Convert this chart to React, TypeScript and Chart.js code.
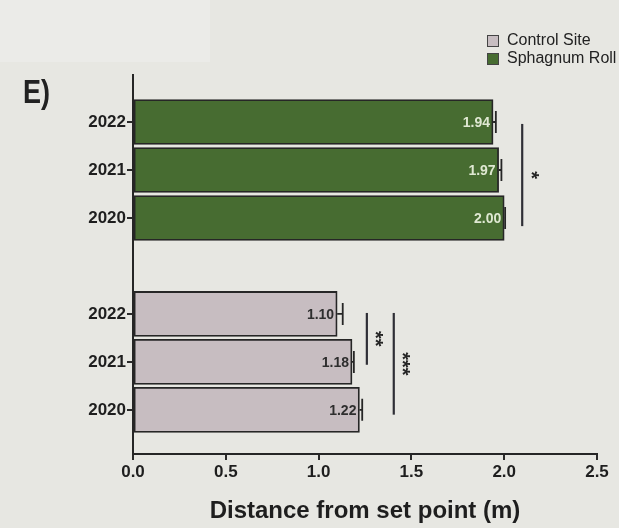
import React, { useEffect, useRef } from "react";
import { Chart, registerables } from "chart.js";

Chart.register(...registerables);

// ---- data ----
const yearLabels = ["2022", "2021", "2020"];
const controlValues = [1.1, 1.18, 1.22];
const controlErrors = [0.03, 0.01, 0.015];
const sphagnumValues = [1.94, 1.97, 2.0];
const sphagnumErrors = [0.015, 0.015, 0.005];
// slot positions on the (reversed) vertical value scale
const sphagnumSlots = [0, 1, 2];
const controlSlots = [4, 5, 6];
const xTicks = [0, 0.5, 1.0, 1.5, 2.0, 2.5];
const seriesNames = ["Control Site", "Sphagnum Roll"];
// significance brackets: x position (m), slot range, label
const sigX = [2.097, 1.26, 1.405];
const sigFrom = [0.04, 3.98, 3.98];
const sigTo = [2.17, 5.06, 6.1];
const sigLabels = ["*", "**", "***"];

const GREEN = "#476c31";
const GRAY = "#c7bdc1";
const DARK = "#262626";
const FONT = "'Liberation Sans', Arial, Helvetica, sans-serif";

const tickLabelBySlot: Record<number, string> = {};
sphagnumSlots.forEach((s, i) => (tickLabelBySlot[s] = yearLabels[i]));
controlSlots.forEach((s, i) => (tickLabelBySlot[s] = yearLabels[i]));

const decorPlugin = {
  id: "decor",
  beforeDraw(chart: any) {
    const { ctx, width, height } = chart;
    ctx.save();
    ctx.fillStyle = "#e7e7e2";
    ctx.fillRect(0, 0, width, height);
    ctx.fillStyle = "#ebebe8";
    ctx.fillRect(0, 0, 210, 62);
    ctx.restore();
  },
  afterDatasetsDraw(chart: any) {
    const { ctx } = chart;
    const xs = chart.scales.x;
    const ys = chart.scales.y;
    ctx.save();

    // error bars
    const drawErr = (vals: number[], errs: number[], slots: number[]) => {
      vals.forEach((v, i) => {
        const y = ys.getPixelForValue(slots[i]);
        const x0 = xs.getPixelForValue(v);
        const x1 = xs.getPixelForValue(v + errs[i]);
        ctx.strokeStyle = DARK;
        ctx.lineWidth = 1.8;
        ctx.beginPath();
        ctx.moveTo(x0, y);
        ctx.lineTo(x1, y);
        ctx.moveTo(x1, y - 11);
        ctx.lineTo(x1, y + 11);
        ctx.stroke();
      });
    };
    drawErr(controlValues, controlErrors, controlSlots);
    drawErr(sphagnumValues, sphagnumErrors, sphagnumSlots);

    // value labels
    ctx.font = `bold 14px ${FONT}`;
    ctx.textAlign = "right";
    ctx.textBaseline = "middle";
    sphagnumValues.forEach((v, i) => {
      ctx.fillStyle = "#dfe8d2";
      ctx.fillText(v.toFixed(2), xs.getPixelForValue(v) - 3, ys.getPixelForValue(sphagnumSlots[i]) + 1);
    });
    controlValues.forEach((v, i) => {
      ctx.fillStyle = "#2e2e2e";
      ctx.fillText(v.toFixed(2), xs.getPixelForValue(v) - 3, ys.getPixelForValue(controlSlots[i]) + 1);
    });

    // significance brackets
    sigX.forEach((sx, i) => {
      const x = xs.getPixelForValue(sx);
      const y0 = ys.getPixelForValue(sigFrom[i]);
      const y1 = ys.getPixelForValue(sigTo[i]);
      ctx.strokeStyle = "#2f2f36";
      ctx.lineWidth = 2.2;
      ctx.beginPath();
      ctx.moveTo(x, y0);
      ctx.lineTo(x, y1);
      ctx.stroke();
      ctx.save();
      ctx.translate(x + 11, (y0 + y1) / 2);
      ctx.rotate(Math.PI / 2);
      ctx.font = `bold 20px ${FONT}`;
      ctx.textAlign = "center";
      ctx.textBaseline = "middle";
      ctx.fillStyle = "#262626";
      ctx.fillText(sigLabels[i], 0, 3);
      ctx.restore();
    });

    // panel label
    ctx.save();
    ctx.translate(23, 103);
    ctx.scale(1, 1.25);
    ctx.font = `bold 27px ${FONT}`;
    ctx.textAlign = "left";
    ctx.textBaseline = "alphabetic";
    ctx.fillStyle = "#222";
    ctx.fillText("E)", 0, 0);
    ctx.restore();

    // legend
    const colors = [GRAY, GREEN];
    seriesNames.forEach((name, i) => {
      const by = 35 + i * 18;
      ctx.fillStyle = colors[i];
      ctx.fillRect(487, by, 12, 12);
      ctx.strokeStyle = "#444";
      ctx.lineWidth = 1;
      ctx.strokeRect(487.5, by + 0.5, 11, 11);
      ctx.fillStyle = "#222";
      ctx.font = `16px ${FONT}`;
      ctx.textAlign = "left";
      ctx.textBaseline = "middle";
      ctx.fillText(name, 507, by + 6);
    });
    ctx.restore();
  },
};

export default function App() {
  const ref = useRef<HTMLCanvasElement>(null);
  useEffect(() => {
    document.body.style.margin = "0";
    const canvas = ref.current!;
    const chart = new Chart(canvas, {
      type: "bar",
      data: {
        datasets: [
          {
            label: seriesNames[0],
            data: controlValues.map((v, i) => ({ x: v, y: controlSlots[i] })),
            backgroundColor: GRAY,
            borderColor: DARK,
            borderWidth: 1.8,
            borderSkipped: false,
            barThickness: 45,
            grouped: false,
          },
          {
            label: seriesNames[1],
            data: sphagnumValues.map((v, i) => ({ x: v, y: sphagnumSlots[i] })),
            backgroundColor: GREEN,
            borderColor: DARK,
            borderWidth: 1.8,
            borderSkipped: false,
            barThickness: 45,
            grouped: false,
          },
        ] as any,
      },
      options: {
        indexAxis: "y",
        animation: false,
        responsive: false,
        layout: { padding: { top: 75, right: 22, bottom: 0, left: 0 } },
        plugins: { legend: { display: false }, tooltip: { enabled: false } },
        scales: {
          y: {
            type: "linear",
            reverse: true,
            offset: false,
            min: -0.98,
            max: 6.92,
            afterBuildTicks: (scale: any) => {
              scale.ticks = [...sphagnumSlots, ...controlSlots].map((v) => ({ value: v }));
            },
            afterFit: (scale: any) => {
              scale.width = 133;
            },
            ticks: {
              autoSkip: false,
              padding: 1,
              color: "#1e1e1e",
              font: { family: FONT, size: 17, weight: "bold" },
              callback: (v: any) => tickLabelBySlot[v as number] ?? "",
            },
            grid: { offset: false, drawOnChartArea: false, drawTicks: true, tickLength: 6, color: "#2a2a2a", lineWidth: 2 },
            border: { display: true, color: "#262626", width: 2 },
          },
          x: {
            type: "linear",
            min: 0,
            max: 2.5,
            afterBuildTicks: (scale: any) => {
              scale.ticks = xTicks.map((v) => ({ value: v }));
            },
            afterFit: (scale: any) => {
              scale.height = 74;
            },
            ticks: {
              padding: 2,
              color: "#1e1e1e",
              font: { family: FONT, size: 17, weight: "bold" },
              callback: (v: any) => Number(v).toFixed(1),
            },
            grid: { drawOnChartArea: false, drawTicks: true, tickLength: 6, color: "#2a2a2a", lineWidth: 2 },
            border: { display: true, color: "#262626", width: 2 },
            title: {
              display: true,
              text: "Distance from set point (m)",
              color: "#1e1e1e",
              font: { family: FONT, size: 24, weight: "bold" },
              padding: { top: 2, bottom: 2 },
            },
          },
        },
      } as any,
      plugins: [decorPlugin],
    });
    return () => chart.destroy();
  }, []);
  return <canvas ref={ref} width={619} height={528} style={{ display: "block" }} />;
}
